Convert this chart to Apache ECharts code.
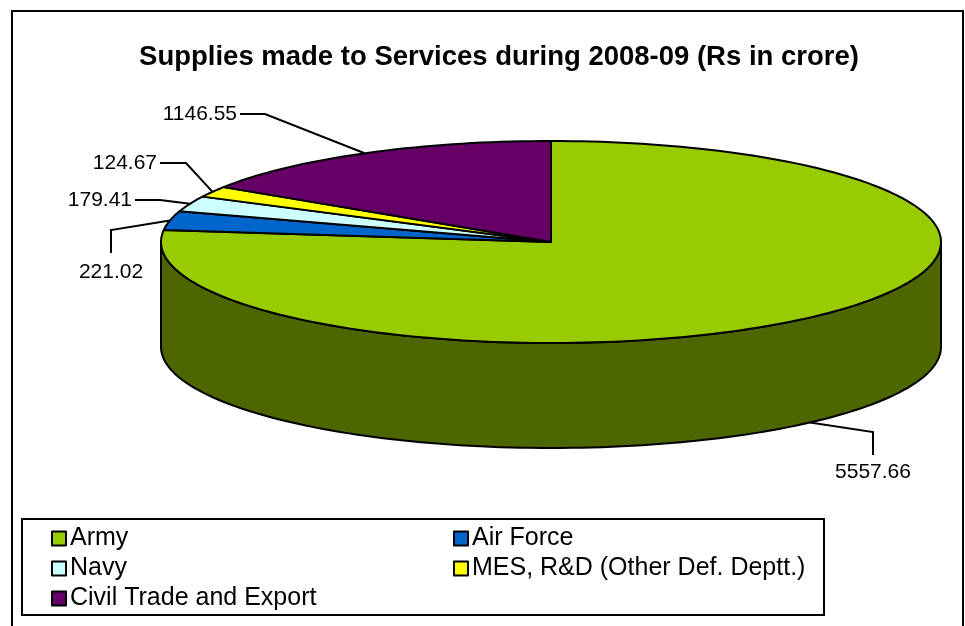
<!DOCTYPE html>
<html>
<head>
<meta charset="utf-8">
<script src="https://cdn.jsdelivr.net/npm/echarts@6/dist/echarts.min.js"></script>
<style>
  html, body { margin: 0; padding: 0; background: #fff; }
  #main { width: 965px; height: 626px; }
</style>
</head>
<body>
<div id="main"></div>
<script>
var names = ['Army', 'Air Force', 'Navy', 'MES, R&D (Other Def. Deptt.)', 'Civil Trade and Export'];
var values = [5557.66, 221.02, 179.41, 124.67, 1146.55];
var topColors = ['#99cc00', '#0066cc', '#ccffff', '#ffff00', '#660066'];
var sideColors = ['#4d6600', '#003366', '#668080', '#808000', '#330033'];

// label leader lines: bend points after the anchor, then text position
var labelLayout = [
  { pts: [[873, 432], [873, 455]], text: [873, 472], align: 'center' },
  { pts: [[111, 230], [111, 253]], text: [111, 272], align: 'center' },
  { pts: [[160, 200], [135, 200]], text: [132, 200], align: 'right' },
  { pts: [[186, 163], [160, 163]], text: [157, 163], align: 'right' },
  { pts: [[265, 114], [240, 114]], text: [237, 114], align: 'right' }
];

var cx = 551, cy = 242, rx = 390, ry = 101, depth = 105;
var font = '"Liberation Sans", Arial, sans-serif';

var total = values.reduce(function (a, b) { return a + b; }, 0);
var cum = [0];
values.forEach(function (v, i) { cum.push(cum[i] + v); });

function pt(deg, dy) {
  var r = deg * Math.PI / 180;
  return [cx + rx * Math.sin(r), cy - ry * Math.cos(r) + (dy || 0)];
}
function arc(a0, a1, dy) {
  var n = Math.max(2, Math.ceil((a1 - a0) / 1.5));
  var out = [];
  for (var k = 0; k <= n; k++) out.push(pt(a0 + (a1 - a0) * k / n, dy));
  return out;
}

function renderItem(params, api) {
  var i = params.dataIndex;
  var a0 = cum[i] / total * 360, a1 = cum[i + 1] / total * 360;
  var children = [];
  var s0 = Math.max(a0, 90), s1 = Math.min(a1, 270);
  if (s1 > s0) {
    var side = arc(s0, s1).concat(arc(s0, s1, depth).reverse());
    children.push({
      type: 'polygon', shape: { points: side },
      style: { fill: sideColors[i], stroke: '#000', lineWidth: 2, lineJoin: 'round' }
    });
  }
  children.push({
    type: 'polygon', shape: { points: [[cx, cy]].concat(arc(a0, a1)) },
    style: { fill: topColors[i], stroke: '#000', lineWidth: 2, lineJoin: 'round' }
  });
  var mid = (a0 + a1) / 2;
  var front = Math.cos(mid * Math.PI / 180) < 0;
  var anchor = pt(mid, front ? depth : 0);
  var lay = labelLayout[i];
  children.push({
    type: 'polyline', shape: { points: [anchor].concat(lay.pts) },
    style: { stroke: '#000', lineWidth: 2, fill: null }
  });
  children.push({
    type: 'text',
    style: {
      text: api.value(0).toFixed(2), x: lay.text[0], y: lay.text[1],
      align: lay.align, verticalAlign: 'middle',
      fontSize: 21, fontFamily: font, fill: '#000'
    }
  });
  return { type: 'group', children: children };
}

var chart = echarts.init(document.getElementById('main'));

var legendBase = {
  orient: 'vertical',
  top: 521,
  itemWidth: 14,
  itemHeight: 14,
  itemGap: 5,
  icon: 'rect',
  selectedMode: false,
  itemStyle: { borderColor: '#000', borderWidth: 2 },
  textStyle: { fontSize: 25, lineHeight: 25, fontFamily: font, color: '#000', padding: [0, 0, 0, -1] }
};

chart.setOption({
  animation: false,
  backgroundColor: '#fff',
  title: {
    text: 'Supplies made to Services during 2008-09 (Rs in crore)',
    left: 494,
    textAlign: 'center',
    top: 38,
    textStyle: { fontSize: 27.5, fontWeight: 'bold', fontFamily: font, color: '#000' }
  },
  legend: [
    Object.assign({}, legendBase, { left: 46, data: [names[0], names[2], names[4]] }),
    Object.assign({}, legendBase, { left: 448, data: [names[1], names[3]] })
  ],
  graphic: [
    { type: 'rect', shape: { x: 12, y: 11, width: 951, height: 640 }, style: { fill: null, stroke: '#000', lineWidth: 2 }, z: 10 },
    { type: 'rect', shape: { x: 22, y: 519, width: 802, height: 96 }, style: { fill: null, stroke: '#000', lineWidth: 2 }, z: 10 }
  ],
  series: [
    {
      type: 'custom',
      coordinateSystem: 'none',
      renderItem: renderItem,
      data: values,
      silent: true
    },
    {
      type: 'pie',
      radius: [0, 0],
      center: [-50, -50],
      silent: true,
      label: { show: false },
      labelLine: { show: false },
      data: names.map(function (n, i) {
        return { name: n, value: values[i], itemStyle: { color: topColors[i] } };
      })
    }
  ]
});
</script>
</body>
</html>
